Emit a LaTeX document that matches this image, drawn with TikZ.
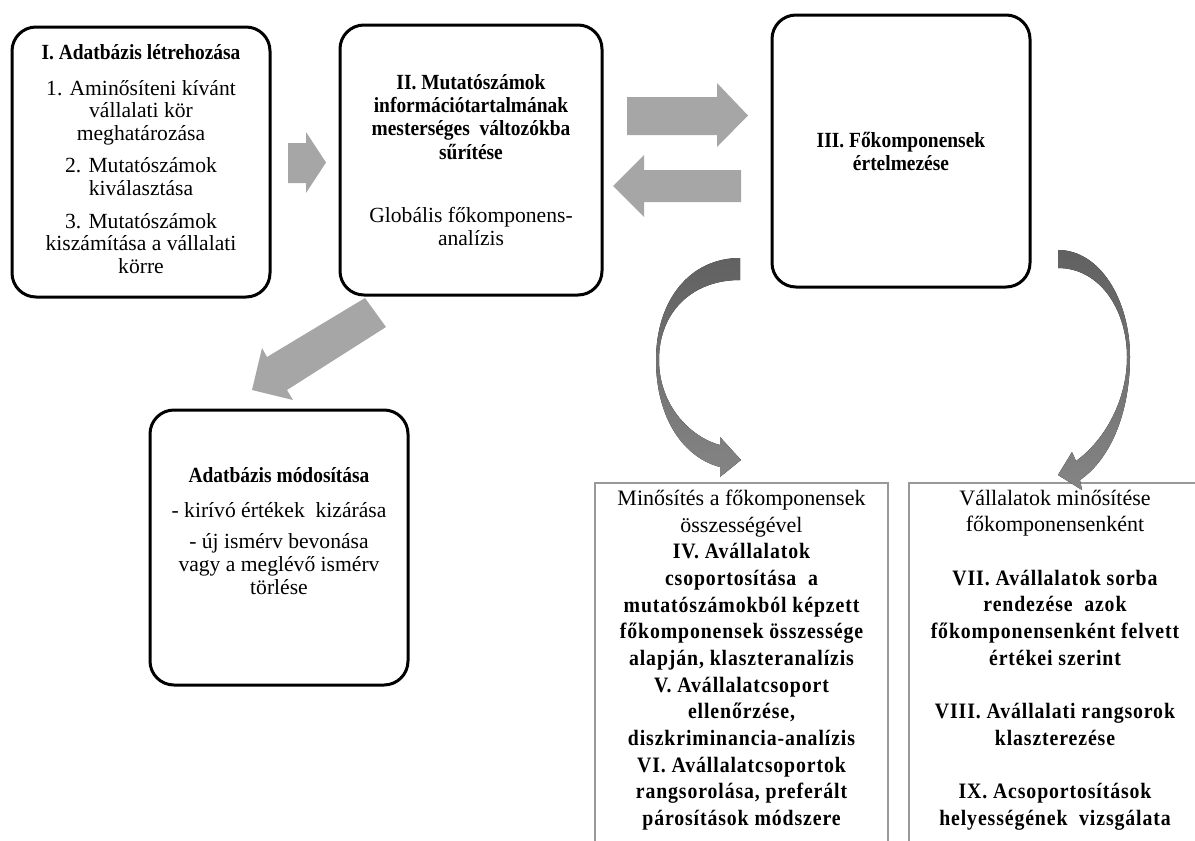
\documentclass[tikz,border=0pt]{standalone}
\usepackage{fontspec}
\setmainfont{Liberation Serif}[BoldFeatures={FakeStretch=0.9}]
\newfontfamily\widebold{Liberation Serif}[BoldFeatures={FakeStretch=0.9,LetterSpace=4}]
\newcommand\wb[1]{{\widebold\bfseries #1}}
\usetikzlibrary{arrows.meta}

\begin{document}
\begin{tikzpicture}[x=0.5pt, y=-0.5pt,
  rbox/.style={draw=black, line width=1.5pt, rounded corners=12pt, fill=white},
  plainbox/.style={draw=black!40, line width=1pt, fill=white},
  txt/.style={align=center, font=\fontsize{10.8}{11.4}\selectfont, inner sep=0pt},
  txtb/.style={align=center, font=\fontsize{11}{13.33}\selectfont, inner sep=0pt},
  fat/.style={fill=black!35, draw=none},
  curvy/.style={draw=none, top color=black!62, bottom color=black!48},
]
\useasboundingbox (0,0) rectangle (1195,841);

% ============ TOP ROW: boxes I, II, III ============
\node[rbox, minimum width=129pt, minimum height=135pt] (create) at (141,162) {};
\node[txt] (createtxt) at (141,159) {\textbf{I. Adatbázis létrehozása}\\[6.5pt]
  1. Aminősíteni kívánt\\vállalati kör\\meghatározása\\[4.5pt]
  2. Mutatószámok\\kiválasztása\\[5pt]
  3. Mutatószámok\\kiszámítása a vállalati\\körre};

\node[rbox, minimum width=131pt, minimum height=135pt] (compress) at (471,160) {};
\node[txt, font=\fontsize{10.8}{11.6}\selectfont] (compresstxt) at (471,160)
  {\textbf{II. Mutatószámok}\\\textbf{információtartalmának}\\
   \textbf{mesterséges\ \ változókba}\\\textbf{sűrítése}\\[20pt]
   Globális főkomponens-\\analízis};

\node[rbox, minimum width=129pt, minimum height=136pt] (interp) at (901,151) {};
\node[txt] (interptxt) at (901,151.5) {\textbf{III. Főkomponensek}\\\textbf{értelmezése}};

% ============ MODIFY BOX ============
\node[rbox, minimum width=129pt, minimum height=137.5pt] (modify) at (279,547.5) {};
\node[txt] (modifytxt) at (279,531) {\textbf{Adatbázis módosítása}\\[6pt]
  - kirívó értékek\ \ kizárása\\[4.5pt]
  - új ismérv bevonása\\vagy a meglévő ismérv\\törlése};

% ============ BOTTOM BOXES (run off the page) ============
\node[plainbox, minimum width=146.5pt, minimum height=208.5pt] (overall) at (741.5,691.5) {};
\node[txtb] (overalltxt) at (741.5,660) {Minősítés a főkomponensek\\összességével\\
  \wb{IV. Avállalatok}\\\wb{csoportosítása\ \ a}\\\wb{mutatószámokból\ képzett}\\
  \wb{főkomponensek összessége}\\\wb{alapján, klaszteranalízis}\\
  \wb{V. Avállalatcsoport}\\\wb{ellenőrzése,}\\\wb{diszkriminancia-analízis}\\
  \wb{VI. Avállalatcsoportok}\\\wb{rangsorolása, preferált}\\\wb{párosítások módszere}};

\node[plainbox, minimum width=146pt, minimum height=208.5pt] (percomp) at (1055,691.5) {};
\node[txtb] (percomptxt) at (1055,660) {Vállalatok minősítése\\főkomponensenként\\[13.33pt]
  \wb{VII. Avállalatok sorba}\\\wb{rendezése\ \ azok}\\\wb{főkomponensenként felvett}\\
  \wb{értékei szerint}\\[13.33pt]
  \wb{VIII. Avállalati\ rangsorok}\\\wb{klaszterezése}\\[13.33pt]
  \wb{IX. Acsoportosítások}\\\wb{helyességének\ \ vizsgálata}};

% ============ BLOCK ARROWS ============
\fill[fat] (288,143) -- (306,143) -- (306,132) -- (326,162.5) -- (306,193) -- (306,183) -- (288,183) -- cycle;
\fill[fat] (627,97) -- (717,97) -- (717,83) -- (748,115.5) -- (717,147) -- (717,135) -- (627,135) -- cycle;
\fill[fat] (741,170) -- (644,170) -- (644,155) -- (613,186) -- (644,217) -- (644,202) -- (741,202) -- cycle;
% diagonal: II -> modify
\fill[fat] (365,298) -- (267,357) -- (262,348) -- (252,390) -- (293,400) -- (287,390) -- (386,327) -- cycle;

% ============ CURVED ARROWS from III ============
\fill[curvy] (740,258) .. controls (690,258) and (656,300) .. (656,360)
  .. controls (656,420) and (685,458) .. (720,467) -- (720,477) -- (741,460) -- (720,437) -- (720,445)
  .. controls (690,437) and (659,405) .. (659,360)
  .. controls (659,312) and (692,280) .. (740,280) -- cycle;
\fill[curvy] (1058,250) .. controls (1100,250) and (1130,300) .. (1130,357)
  .. controls (1130,410) and (1112,458) .. (1080,480) -- (1082,490) -- (1058,475) -- (1072,452) -- (1076,461)
  .. controls (1105,440) and (1127,400) .. (1127,357)
  .. controls (1127,310) and (1100,268) .. (1058,268) -- cycle;

\end{tikzpicture}
\end{document}
